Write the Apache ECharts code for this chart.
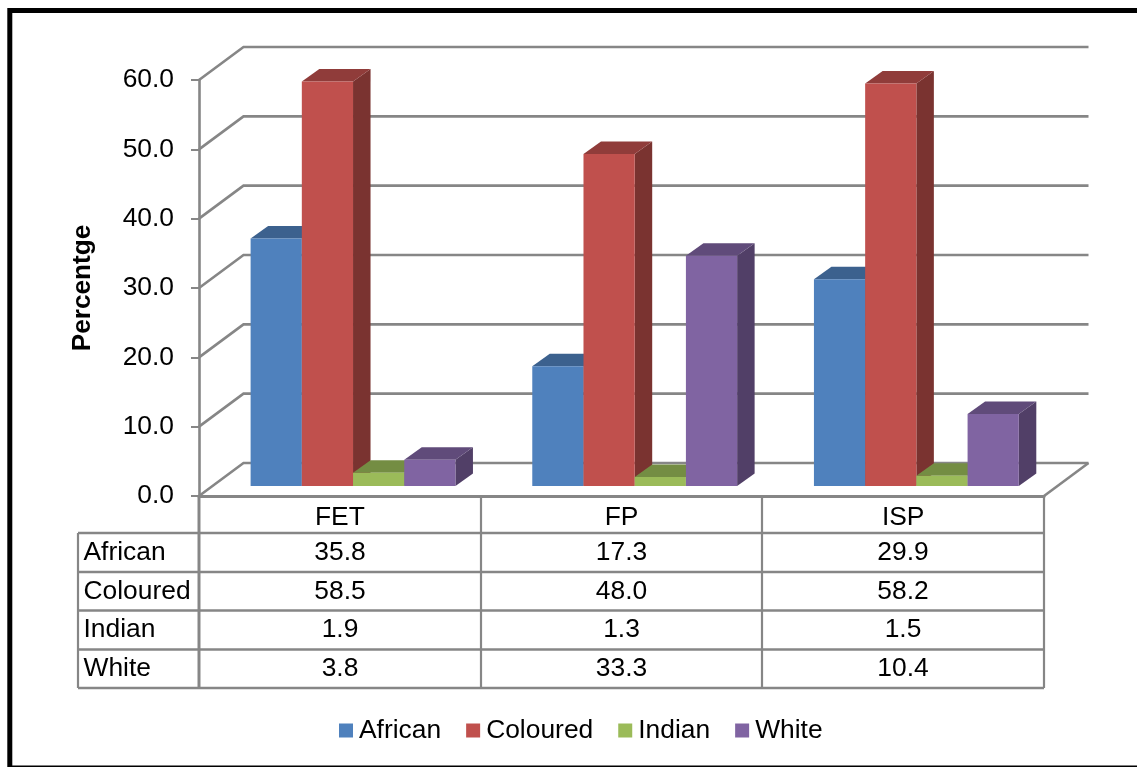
<!DOCTYPE html>
<html>
<head>
<meta charset="utf-8">
<style>html,body{margin:0;padding:0;background:#fff;overflow:hidden}#chart{width:1137px;height:767px}</style>
<script src="https://cdn.jsdelivr.net/npm/echarts@6/dist/echarts.min.js"></script>
</head>
<body>
<div id="chart"></div>
<script>
// Share of enrolment by population group across three education phases.
var categories = ['FET', 'FP', 'ISP'];
var yTicks = [0, 10, 20, 30, 40, 50, 60];
var groupNames = ['African', 'Coloured', 'Indian', 'White'];
var african = [35.8, 17.3, 29.9];
var coloured = [58.5, 48.0, 58.2];
var indian = [1.9, 1.3, 1.5];
var white = [3.8, 33.3, 10.4];
var groupValues = [african, coloured, indian, white];

var frontColors = ['#4F81BD', '#C0504D', '#9BBB59', '#8064A2'];
var topColors = ['#3C618E', '#903C3A', '#748D43', '#604B7A'];
var sideColors = ['#325178', '#7A3330', '#627738', '#513F67'];

var GRAY = '#868686';
var FONT = '"Liberation Sans", Arial, sans-serif';
var FONT_SIZE = 26.4;

// Plot box of the front plane and table layout.
var plot = {left: 199, top: 80, width: 845, height: 416};
var wall = {dx: 44.5, dy: -33};
var barDepth = {dx: 17.5, dy: -12.5};
var barPlane = {left: 212.2, top: 71, width: 845, height: 415};
var columnX = [78, 199, 481, 762, 1044];
var rowY = [496, 533, 572, 610.5, 649.5, 688];

function renderBar(seriesIndex) {
  return function (params, api) {
    var band = api.size([1, 0])[0];
    var w = band / 5.5;
    var cx = api.coord([api.value(0), 0])[0];
    var x0 = cx + (seriesIndex - 2) * w;
    var x1 = x0 + w;
    var base = api.coord([api.value(0), 0])[1];
    var top = api.coord([api.value(0), api.value(1)])[1];
    var d = barDepth;
    return {
      type: 'group',
      children: [
        {type: 'polygon', shape: {points: [[x1, top], [x1 + d.dx, top + d.dy], [x1 + d.dx, base + d.dy], [x1, base]]},
          style: {fill: sideColors[seriesIndex]}},
        {type: 'polygon', shape: {points: [[x0, top], [x0 + d.dx, top + d.dy], [x1 + d.dx, top + d.dy], [x1, top]]},
          style: {fill: topColors[seriesIndex]}},
        {type: 'polygon', shape: {points: [[x0, top], [x1, top], [x1, base], [x0, base]]},
          style: {fill: frontColors[seriesIndex]}}
      ]
    };
  };
}

// Side wall diagonals and back wall gridlines, one per y tick.
function renderWall(params, api) {
  var y = api.coord([0, api.value(1)])[1];
  var xa = params.coordSys.x;
  var xb = xa + params.coordSys.width;
  var children = [{
    type: 'polyline',
    shape: {points: [[xa, y], [xa + wall.dx, y + wall.dy], [xb + wall.dx, y + wall.dy]]},
    style: {fill: null, stroke: GRAY, lineWidth: 2.6}
  }];
  if (api.value(1) === 0) {
    children.push({
      type: 'line',
      shape: {x1: xb, y1: y, x2: xb + wall.dx, y2: y + wall.dy},
      style: {stroke: GRAY, lineWidth: 2.6}
    });
  }
  return {type: 'group', children: children};
}

var barSeries = groupNames.map(function (name, i) {
  return {
    type: 'custom',
    name: name,
    xAxisIndex: 1,
    yAxisIndex: 1,
    renderItem: renderBar(i),
    itemStyle: {color: frontColors[i]},
    encode: {x: 0, y: 1},
    z: 5 + i,
    data: groupValues[i].map(function (v, k) { return [k, v]; })
  };
});

var wallSeries = {
  type: 'custom',
  name: 'walls',
  xAxisIndex: 0,
  yAxisIndex: 0,
  renderItem: renderWall,
  encode: {x: 0, y: 1},
  z: 1,
  silent: true,
  data: yTicks.map(function (v) { return [0, v]; })
};

// Data table under the plot.
var tableGraphics = [];
function tableLine(x1, y1, x2, y2, width) {
  tableGraphics.push({type: 'line', shape: {x1: x1, y1: y1, x2: x2, y2: y2},
    style: {stroke: GRAY, lineWidth: width}, z: 3});
}
function tableText(text, x, y, align) {
  tableGraphics.push({type: 'text', x: x, y: y, z: 4,
    style: {text: text, font: FONT_SIZE + 'px ' + FONT, fill: '#000', align: align, verticalAlign: 'middle'}});
}
rowY.forEach(function (y, r) {
  if (r > 0) tableLine(columnX[0], y, columnX[4], y, 2.4);
});
columnX.forEach(function (x, c) {
  tableLine(x, c === 0 ? rowY[1] : rowY[0], x, rowY[5], c === 1 ? 3 : 2.2);
});
groupNames.forEach(function (name, r) {
  var yMid = (rowY[r + 1] + rowY[r + 2]) / 2;
  tableText(name, columnX[0] + 5.5, yMid, 'left');
  groupValues[r].forEach(function (v, c) {
    tableText(v.toFixed(1), (columnX[c + 1] + columnX[c + 2]) / 2, yMid, 'center');
  });
});

var chart = echarts.init(document.getElementById('chart'), null, {renderer: 'canvas'});
chart.setOption({
  animation: false,
  backgroundColor: '#fff',
  textStyle: {fontFamily: FONT},
  grid: [
    {left: plot.left, top: plot.top, width: plot.width, height: plot.height, containLabel: false},
    {left: barPlane.left, top: barPlane.top, width: barPlane.width, height: barPlane.height, containLabel: false}
  ],
  legend: {
    data: groupNames,
    left: 334,
    top: 712.5,
    icon: 'rect',
    itemWidth: 14,
    itemHeight: 14,
    itemGap: 25,
    textStyle: {fontFamily: FONT, fontSize: FONT_SIZE, color: '#000', padding: [0, 0, 0, 1]}
  },
  xAxis: [
    {type: 'category', gridIndex: 0, data: categories, boundaryGap: true,
      axisLine: {show: true, lineStyle: {color: GRAY, width: 3}},
      axisTick: {show: false},
      axisLabel: {color: '#000', fontFamily: FONT, fontSize: FONT_SIZE, margin: 8.5},
      splitLine: {show: false}},
    {type: 'category', gridIndex: 1, data: categories, show: false}
  ],
  yAxis: [
    {type: 'value', gridIndex: 0, min: 0, max: 60, interval: 10,
      name: 'Percentge', nameLocation: 'middle', nameRotate: 90, nameGap: 103,
      nameTextStyle: {color: '#000', fontFamily: FONT, fontSize: 26.2, fontWeight: 'bold'},
      axisLine: {show: true, lineStyle: {color: GRAY, width: 2.6}},
      axisTick: {show: true, length: 8, lineStyle: {color: GRAY, width: 2}},
      axisLabel: {color: '#000', fontFamily: FONT, fontSize: FONT_SIZE, margin: 25,
        formatter: function (v) { return v.toFixed(1); }},
      splitLine: {show: false}},
    {type: 'value', gridIndex: 1, min: 0, max: 60, interval: 10, show: false, splitLine: {show: false}}
  ],
  series: [wallSeries].concat(barSeries),
  graphic: tableGraphics.concat([
    {type: 'rect', shape: {x: 9.8, y: 10.5, width: 1140, height: 757.5},
      style: {fill: null, stroke: '#000', lineWidth: 5}, z: 10, silent: true}
  ])
});
</script>
</body>
</html>
